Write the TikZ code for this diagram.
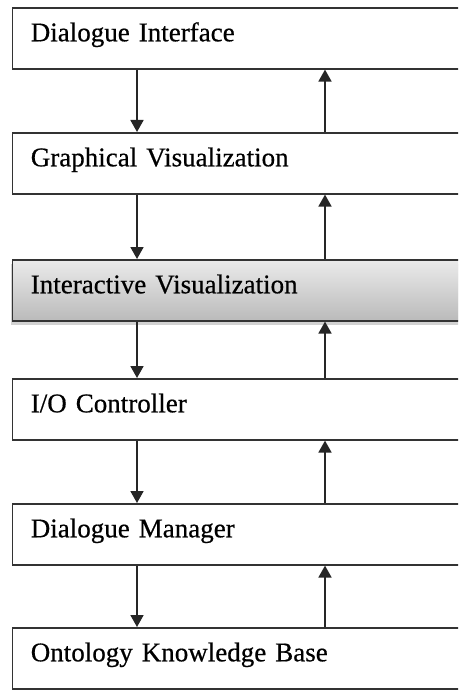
\documentclass[tikz,border=0pt]{standalone}
\usepackage{fontspec}
\setmainfont{Liberation Serif}
\newfontfamily\boxfont[FakeBold=0.6]{Liberation Serif}
\usetikzlibrary{arrows.meta,shadows}

\begin{document}
\begin{tikzpicture}[x=1pt,y=1pt]

        \clip (0,0) rectangle (458,-690);
        \fill[white] (0,0) rectangle (458,-690);

        \coordinate (dn) at (137,0);
        \coordinate (up) at (325,0);

        \begin{scope}[every node/.style={draw=black!80, line width=1.6pt, fill=white,
            anchor=north west, minimum height=61pt, text width=420pt, inner xsep=18.5pt,
            align=left, text height=18pt, text depth=12pt,
            font=\boxfont\fontsize{27}{30}\selectfont}]
          \node (1) at (11.5,-7)   {Dialogue Interface};
          \node (2) at (11.5,-132) {Graphical Visualization};
          \node[top color=black!8, bottom color=black!27,
            drop shadow={shadow xshift=-1.5pt, shadow yshift=-4pt, opacity=.35}]
                (3) at (11.5,-259) {Interactive Visualization};
          \node (4) at (11.5,-378) {I/O Controller};
          \node (5) at (11.5,-503) {Dialogue Manager};
          \node (6) at (11.5,-627) {Ontology Knowledge Base};
        \end{scope}

        \begin{scope}[every edge/.style={draw=black!85, line width=1.8pt,
            -{Triangle[width=13pt,length=12pt]}}]
          \path (1.south -| dn) edge (2.north -| dn);
          \path (2.south -| dn) edge (3.north -| dn);
          \path (3.south -| dn) edge (4.north -| dn);
          \path (4.south -| dn) edge (5.north -| dn);
          \path (5.south -| dn) edge (6.north -| dn);
          \path (2.north -| up) edge (1.south -| up);
          \path (3.north -| up) edge (2.south -| up);
          \path (4.north -| up) edge (3.south -| up);
          \path (5.north -| up) edge (4.south -| up);
          \path (6.north -| up) edge (5.south -| up);
        \end{scope}

      \end{tikzpicture}
\end{document}
